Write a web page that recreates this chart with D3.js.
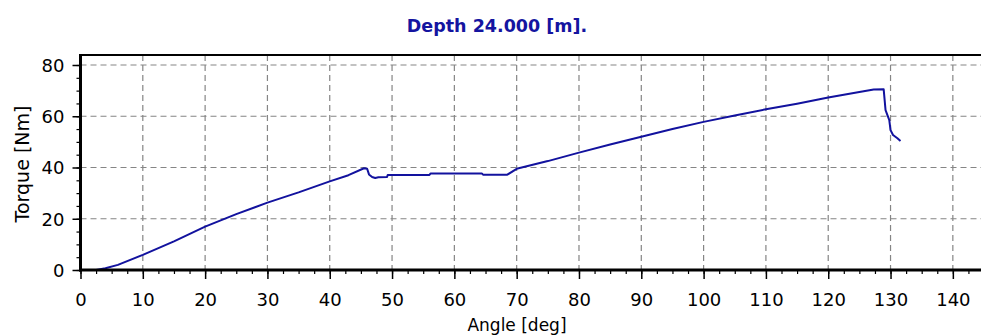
<!DOCTYPE html>
<html>
<head>
<meta charset="utf-8">
<script src="https://cdn.jsdelivr.net/npm/d3@7"></script>
<style>
  html, body { margin: 0; padding: 0; background: #fff; }
  svg { display: block; }
  text { font-family: "DejaVu Sans", Verdana, sans-serif; }
</style>
</head>
<body>
<svg id="chart" width="981" height="336"></svg>
<script>
// Torque vs. rotation angle recorded at one depth
const titleText = "Depth 24.000 [m].";
const xTitle = "Angle [deg]";
const yTitle = "Torque [Nm]";

const angle = [0, 2.5, 4, 6, 10, 15, 20, 25, 30, 35, 40, 43, 45.5, 46, 46.3, 46.8, 47.3, 47.8, 49.2, 49.3,
  56, 56.2, 64.4, 64.6, 68.5, 70, 75, 80, 85, 90, 95, 100, 105, 110, 115, 120, 125, 127.3, 128.9,
  129.2, 129.8, 130, 130.4, 131.1, 131.6];
const torque = [0, 0, 0.7, 2, 5.9, 11.2, 16.9, 21.8, 26.3, 30.3, 34.6, 37, 39.7, 39.5, 37.3, 36.3, 35.9, 36.2, 36.3, 37.1,
  37.1, 37.7, 37.7, 37.2, 37.2, 39.5, 42.5, 45.8, 49, 52, 55, 57.8, 60.3, 62.7, 64.9, 67.3, 69.5, 70.4, 70.5,
  62.4, 58.5, 54.6, 52.7, 51.4, 50.3];

const xMajor = d3.range(0, 141, 10);
const xMinor = d3.range(0, 146, 2.5);
const yMajor = [0, 20, 40, 60, 80];
const yMinor = d3.range(0, 84, 5);

const svg = d3.select("#chart");
const plotLeft = 80.5, plotBottom = 270, plotTop = 55;

const x = d3.scaleLinear().domain([0, 145]).range([plotLeft, 984]);
const y = d3.scaleLinear().domain([0, 84]).range([plotBottom, 54.75]);

// dashed grid
const grid = svg.append("g").attr("stroke", "#858585").attr("stroke-width", 1.2)
  .attr("stroke-dasharray", "6,4").attr("fill", "none");
grid.selectAll("line.v").data(xMajor.filter(d => d > 0)).join("line").attr("class", "v")
  .attr("x1", d => x(d)).attr("x2", d => x(d)).attr("y1", plotTop).attr("y2", plotBottom);
grid.selectAll("line.h").data(yMajor.filter(d => d > 0)).join("line").attr("class", "h")
  .attr("x1", plotLeft).attr("x2", 981).attr("y1", d => y(d)).attr("y2", d => y(d));

// minor ticks
const xAxisMinor = d3.axisBottom(x).tickValues(xMinor).tickSize(4).tickFormat("");
svg.append("g").attr("transform", `translate(0,${plotBottom})`).call(xAxisMinor)
  .call(g => g.select(".domain").remove())
  .call(g => g.selectAll("line").attr("stroke", "#000").attr("stroke-width", 1.2));
const yAxisMinor = d3.axisLeft(y).tickValues(yMinor).tickSize(4).tickFormat("");
svg.append("g").attr("transform", `translate(${plotLeft},0)`).call(yAxisMinor)
  .call(g => g.select(".domain").remove())
  .call(g => g.selectAll("line").attr("stroke", "#000").attr("stroke-width", 1.2));

// major ticks and labels
const xAxis = d3.axisBottom(x).tickValues(xMajor).tickSize(9).tickPadding(12);
svg.append("g").attr("transform", `translate(0,${plotBottom})`).call(xAxis)
  .call(g => g.select(".domain").remove())
  .call(g => g.selectAll("line").attr("stroke", "#000").attr("stroke-width", 1.5))
  .call(g => g.selectAll("text").attr("fill", "#000").attr("font-size", 18)
    .attr("font-family", "DejaVu Sans").attr("y", 36).attr("dy", null));

const yAxis = d3.axisLeft(y).tickValues(yMajor).tickSize(8).tickPadding(8);
svg.append("g").attr("transform", `translate(${plotLeft},0)`).call(yAxis)
  .call(g => g.select(".domain").remove())
  .call(g => g.selectAll("line").attr("stroke", "#000").attr("stroke-width", 1.5))
  .call(g => g.selectAll("text").attr("fill", "#000").attr("font-size", 18)
    .attr("font-family", "DejaVu Sans").attr("x", -16).attr("dy", "0.36em"));

// data curve
const line = d3.line().x((d, i) => x(angle[i])).y(d => y(d));
svg.append("path").datum(torque).attr("d", line)
  .attr("fill", "none").attr("stroke", "#12129e").attr("stroke-width", 2)
  .attr("stroke-linejoin", "round");

// frame
svg.append("line").attr("x1", plotLeft).attr("x2", 981).attr("y1", plotTop).attr("y2", plotTop)
  .attr("stroke", "#000").attr("stroke-width", 2);
svg.append("line").attr("x1", plotLeft).attr("x2", plotLeft).attr("y1", plotTop - 1).attr("y2", plotBottom + 1.5)
  .attr("stroke", "#000").attr("stroke-width", 3);
svg.append("line").attr("x1", plotLeft - 1.5).attr("x2", 981).attr("y1", plotBottom).attr("y2", plotBottom)
  .attr("stroke", "#000").attr("stroke-width", 3);

// titles
svg.append("text").attr("x", 497).attr("y", 32).attr("text-anchor", "middle")
  .attr("font-size", 17.5).attr("font-weight", "bold").attr("fill", "#1414a0").text(titleText);
svg.append("text").attr("x", 517).attr("y", 331).attr("text-anchor", "middle")
  .attr("font-size", 17).attr("fill", "#000").text(xTitle);
svg.append("text").attr("transform", "translate(29,164) rotate(-90)").attr("text-anchor", "middle")
  .attr("font-size", 19).attr("fill", "#000").text(yTitle);
</script>
</body>
</html>
